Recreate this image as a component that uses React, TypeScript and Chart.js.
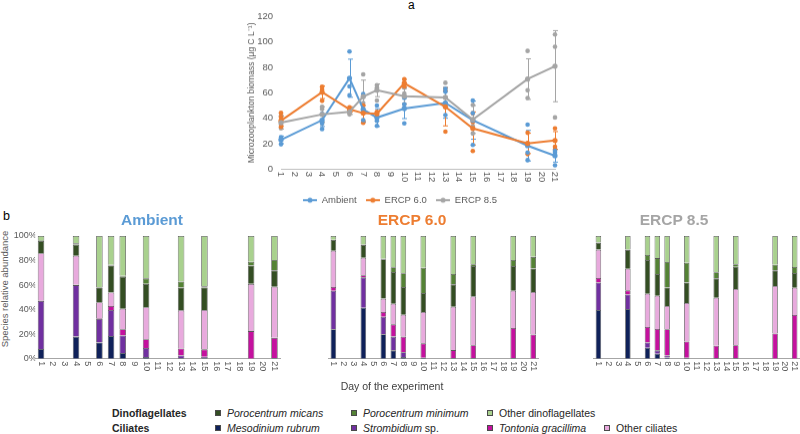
import React, { useEffect, useRef } from 'react';
import { Chart, registerables } from 'chart.js';

Chart.register(...registerables);

const FONT = '"Liberation Sans", Arial, Helvetica, sans-serif';

// ---------- categories ----------
const dayLabels = ['1', '2', '3', '4', '5', '6', '7', '8', '9', '10', '11', '12', '13', '14', '15', '16', '17', '18', '19', '20', '21'];
const sampledDays = ['1', '4', '6', '7', '8', '10', '13', '15', '19', '21'];

// ---------- panel a: biomass (µg C L-1) ----------
const ambientMean = [23, 38.5, 71.5, 47, 40.5, 47.7, 52, 38.5, 18.4, 10.5];
const ambientSd = [3, 5, 15, 10, 7, 8, 12, 15, 12, 5];
const ambientRep1 = [25, 43.5, 92.5, 59, 50, 56, 63, 54, 35, 14.4];
const ambientRep2 = [23.5, 36, 65, 47, 38, 51, 60.8, 44, 13, 13];
const ambientRep3 = [19.5, 31.5, 58, 38.5, 34, 36, 42.5, 19, 7, 3];

const ercp60Mean = [38, 60.5, 47, 44, 43.5, 67.5, 49, 32, 20.2, 22.5];
const ercp60Sd = [4, 5, 2, 6, 2, 3, 15, 13, 8, 7];
const ercp60Rep1 = [44.3, 64.8, 48.5, 50, 45, 70.8, 61.6, 43.8, 28.6, 32];
const ercp60Rep2 = [41, 62.7, 46, 45, 44, 68, 56.4, 37, 20, 17.5];
const ercp60Rep3 = [33.3, 53.7, 45, 36.4, 41, 65, 29.4, 14.2, 11.8, 15.5];

const ercp85Mean = [36.5, 43, 45, 57, 62, 57.4, 56.4, 39, 70.8, 81];
const ercp85Sd = [5, 6, 2, 13, 5, 6, 8, 11, 16, 28];
const ercp85Rep1 = [42, 49, 47.7, 74.5, 66, 64, 67.9, 50.4, 93, 106];
const ercp85Rep2 = [35, 47.2, 43, 52, 64, 59.5, 52, 33.8, 62, 96.3];
const ercp85Rep3 = [32, 36, 44, 45, 54, 51, 49, 28, 56, 40.6];

const treatmentNames = ['Ambient', 'ERCP 6.0', 'ERCP 8.5'];
const treatmentColors = ['#5B9BD5', '#ED7D31', '#A5A5A5'];

// ---------- panel b: species relative abundance (%) ----------
const speciesNames = ['Mesodinium rubrum', 'Strombidium sp.', 'Tontonia gracillima', 'Other ciliates', 'Porocentrum micans', 'Porocentrum minimum', 'Other dinoflagellates'];
const speciesColors = ['#0F215A', '#7030A0', '#C4119E', '#E8AADD', '#344E23', '#548235', '#A9D18E'];

const ambMeso = [8, 18, 13.3, 18.5, 4.6, 1.4, 0.5, 0.5, 0, 0.5];
const ambStromb = [39, 42, 19, 21.2, 14.4, 7.3, 2.2, 1, 0, 0];
const ambTont = [0.5, 0.3, 0.7, 3.3, 5, 7.1, 5.7, 6.1, 22.5, 16.5];
const ambOthCil = [38.5, 23.7, 13, 11, 16.8, 26.2, 31, 32.1, 38.5, 41.7];
const ambMicans = [10, 9, 12, 22, 26, 19, 18.6, 18.3, 15, 13.3];
const ambMinimum = [0.5, 1, 0.5, 0.5, 0.9, 4.5, 5, 1, 3, 8.4];
const ambOthDino = [3.5, 6, 41.5, 23.5, 32.3, 34.5, 37, 41, 21, 19.6];

const e60Meso = [24, 41.6, 20, 6.8, 1.4, 0.8, 0.5, 0.5, 0.5, 0];
const e60Stromb = [31.4, 24.7, 14.2, 11.2, 3.8, 0, 0, 0, 0, 0];
const e60Tont = [3, 1.7, 3.8, 10, 12.8, 11.7, 6.5, 10.5, 24.5, 19.8];
const e60OthCil = [29.6, 14.3, 11, 16.8, 17.9, 25.5, 35.4, 39.8, 30.4, 34.5];
const e60Micans = [8.7, 10.4, 32, 25.9, 22.5, 15.5, 18.2, 24.7, 20.1, 19.3];
const e60Minimum = [0.3, 0.3, 0.5, 3.8, 11.2, 20.7, 8.4, 1.5, 4.9, 9.4];
const e60OthDino = [3, 7, 18.5, 25.5, 30.4, 25.8, 31, 23, 19.6, 17];

const e85Meso = [39.7, 40.5, 9, 4, 1, 0.5, 0.5, 0.5, 0, 0];
const e85Stromb = [22.5, 11.9, 4.3, 2.8, 1.7, 0.3, 0, 0, 0, 0];
const e85Tont = [3.6, 3.3, 12.5, 17.4, 21.3, 13.2, 10.1, 10.5, 20.6, 35.6];
const e85OthCil = [23.1, 17.7, 27.2, 27.2, 19, 31.4, 39.1, 45.8, 38.6, 22.3];
const e85Micans = [5.7, 15.2, 27.4, 17.6, 15, 16.8, 15.8, 18.2, 12.8, 11.9];
const e85Minimum = [0.4, 0.4, 4.1, 13, 20.8, 16.1, 4.9, 2, 4.6, 4.9];
const e85OthDino = [5, 11, 15.5, 18, 21.2, 21.7, 29.6, 23, 23.4, 25.3];

const yPercentTicks = [0, 20, 40, 60, 80, 100];

// ---------- helpers ----------
const spread = (vals: number[]) =>
  dayLabels.map((d) => {
    const i = sampledDays.indexOf(d);
    return i >= 0 ? vals[i] : null;
  });

const cwTicks = {
  id: 'cwTicks',
  afterDraw(chart: any, _args: any, opts: any) {
    const xs = chart.scales.x;
    if (!xs) return;
    const ctx = chart.ctx;
    ctx.save();
    ctx.font = `${opts.size}px ${FONT}`;
    ctx.fillStyle = opts.color;
    ctx.textAlign = 'left';
    ctx.textBaseline = 'middle';
    xs.ticks.forEach((t: any, i: number) => {
      const x = xs.getPixelForTick(i);
      ctx.save();
      ctx.translate(x, xs.top + opts.pad);
      ctx.rotate(Math.PI / 2);
      ctx.fillText(String(xs.getLabelForValue(t.value)), 0, 0);
      ctx.restore();
    });
    ctx.restore();
  },
};

const errorBars = {
  id: 'errorBars',
  beforeDatasetsDraw(chart: any) {
    const { ctx } = chart;
    const xs = chart.scales.x;
    const ys = chart.scales.y;
    chart.data.datasets.forEach((ds: any) => {
      if (!ds.sd) return;
      ctx.save();
      ctx.strokeStyle = ds.errColor;
      ctx.lineWidth = 1;
      ds.data.forEach((v: number | null, i: number) => {
        if (v == null) return;
        const sd = ds.sd[i];
        const px = Math.round(xs.getPixelForValue(i)) + 0.5;
        const top = ys.getPixelForValue(v + sd);
        const bot = ys.getPixelForValue(v - sd);
        ctx.beginPath();
        ctx.moveTo(px, top);
        ctx.lineTo(px, bot);
        ctx.moveTo(px - 2.5, top);
        ctx.lineTo(px + 2.5, top);
        ctx.moveTo(px - 2.5, bot);
        ctx.lineTo(px + 2.5, bot);
        ctx.stroke();
      });
      ctx.restore();
    });
  },
};

function makeMarker(color: string) {
  const c = document.createElement('canvas');
  c.width = 14;
  c.height = 8;
  const g = c.getContext('2d')!;
  g.strokeStyle = color;
  g.lineWidth = 2;
  g.beginPath();
  g.moveTo(0, 4);
  g.lineTo(14, 4);
  g.stroke();
  g.fillStyle = color;
  g.beginPath();
  g.arc(7, 4, 2.5, 0, Math.PI * 2);
  g.fill();
  return c;
}

// ---------- panel a chart ----------
function BiomassChart() {
  const ref = useRef<HTMLCanvasElement>(null);
  useEffect(() => {
    const means = [ambientMean, ercp60Mean, ercp85Mean];
    const sds = [ambientSd, ercp60Sd, ercp85Sd];
    const reps = [
      [ambientRep1, ambientRep2, ambientRep3],
      [ercp60Rep1, ercp60Rep2, ercp60Rep3],
      [ercp85Rep1, ercp85Rep2, ercp85Rep3],
    ];
    const datasets: any[] = [];
    means.forEach((m, k) => {
      datasets.push({
        label: treatmentNames[k],
        data: spread(m),
        sd: spread(sds[k]),
        errColor: treatmentColors[k],
        borderColor: treatmentColors[k],
        backgroundColor: treatmentColors[k],
        borderWidth: 2,
        pointRadius: 2.6,
        pointBorderWidth: 0,
        spanGaps: true,
        order: 2 - k,
      });
    });
    reps.forEach((rs, k) => {
      rs.forEach((r) => {
        datasets.push({
          label: treatmentNames[k] + ' replicate',
          data: spread(r),
          showLine: false,
          borderColor: treatmentColors[k],
          backgroundColor: treatmentColors[k],
          pointRadius: 2.3,
          pointBorderWidth: 0,
          order: 10,
        });
      });
    });
    const markers = treatmentColors.map(makeMarker);
    const chart = new Chart(ref.current!, {
      type: 'line',
      data: { labels: dayLabels, datasets },
      plugins: [cwTicks, errorBars],
      options: {
        animation: false,
        responsive: false,
        maintainAspectRatio: false,
        layout: { padding: { top: 16.5, right: 10, left: 0, bottom: 0 } },
        plugins: {
          tooltip: { enabled: false },
          legend: {
            position: 'bottom',
            labels: {
              usePointStyle: true,
              pointStyleWidth: 14,
              boxHeight: 10,
              padding: 9.25,
              color: '#595959',
              font: { size: 9.5, family: FONT },
              generateLabels: () =>
                treatmentNames.map((n, i) => ({
                  text: n,
                  pointStyle: markers[i],
                  fillStyle: treatmentColors[i],
                  strokeStyle: treatmentColors[i],
                  lineWidth: 0,
                  hidden: false,
                  datasetIndex: i,
                  fontColor: '#595959',
                })),
            },
          },
          cwTicks: { size: 9.5, color: '#595959', pad: 2.5 },
        } as any,
        scales: {
          x: {
            type: 'category',
            grid: { display: false, drawTicks: false },
            border: { display: true, color: '#BFBFBF', width: 1 },
            ticks: { display: false },
            afterFit: (s: any) => {
              s.height = 17;
            },
          },
          y: {
            min: 0,
            max: 120,
            grid: { display: false, drawTicks: false },
            border: { display: false },
            ticks: { stepSize: 20, color: '#595959', padding: 8, font: { size: 9.5, family: FONT } },
            title: {
              display: true,
              text: 'Microzooplankton biomass (µg C L⁻¹)',
              color: '#595959',
              font: { size: 8.5, family: FONT },
              padding: { top: 2, bottom: 0 },
            },
            afterFit: (s: any) => {
              s.width = 36;
            },
          },
        },
      } as any,
    });
    return () => chart.destroy();
  }, []);
  return (
    <canvas
      ref={ref}
      width={320}
      height={214.5}
      style={{ position: 'absolute', left: 245, top: 0, width: 320, height: 214.5 }}
    />
  );
}

// ---------- panel b charts ----------
type StackProps = {
  series: number[][];
  left: number;
  width: number;
  padLeft: number;
  padRight: number;
  showY: boolean;
};

function StackChart({ series, left, width, padLeft, padRight, showY }: StackProps) {
  const ref = useRef<HTMLCanvasElement>(null);
  useEffect(() => {
    const datasets = series.map((s, k) => ({
      label: speciesNames[k],
      data: spread(s),
      backgroundColor: speciesColors[k],
      borderColor: '#5A5A5A',
      borderWidth: 0.8,
      barPercentage: 0.56,
      categoryPercentage: 1,
      stack: 'all',
    }));
    const chart = new Chart(ref.current!, {
      type: 'bar',
      data: { labels: dayLabels, datasets },
      plugins: [cwTicks],
      options: {
        animation: false,
        responsive: false,
        maintainAspectRatio: false,
        layout: { padding: { top: 6, right: padRight, left: padLeft, bottom: 0 } },
        plugins: {
          legend: { display: false },
          tooltip: { enabled: false },
          cwTicks: { size: 9, color: '#595959', pad: 2.5 },
        } as any,
        scales: {
          x: {
            stacked: true,
            grid: { display: false, drawTicks: false },
            border: { display: true, color: '#A6A6A6', width: 1 },
            ticks: { display: false },
            afterFit: (s: any) => {
              s.height = 21.3;
            },
          },
          y: {
            stacked: true,
            display: showY,
            min: 0,
            max: 100,
            grid: { display: false, drawTicks: false },
            border: { display: false },
            afterBuildTicks: (s: any) => {
              s.ticks = yPercentTicks.map((v) => ({ value: v }));
            },
            ticks: {
              color: '#595959',
              padding: -1.5,
              font: { size: 9, family: FONT },
              callback: (v: any) => v + '%',
            },
            afterFit: (s: any) => {
              s.width = 35.2;
            },
          },
        },
      } as any,
    });
    return () => chart.destroy();
  }, []);
  return (
    <canvas
      ref={ref}
      width={width}
      height={150}
      style={{ position: 'absolute', left, top: 230, width, height: 150 }}
    />
  );
}

const txt = (extra: React.CSSProperties): React.CSSProperties => ({
  position: 'absolute',
  fontFamily: FONT,
  whiteSpace: 'nowrap',
  margin: 0,
  ...extra,
});

function LegendItem({ x, y, color, children }: { x: number; y: number; color: string; children: React.ReactNode }) {
  return (
    <>
      <div
        style={{
          position: 'absolute',
          left: x,
          top: y - 3,
          width: 6,
          height: 6,
          boxSizing: 'border-box',
          border: '1px solid #4a4a4a',
          background: color,
        }}
      />
      <div style={txt({ left: x + 12, top: y - 7, fontSize: 10.5, lineHeight: '14px', color: '#262626' })}>{children}</div>
    </>
  );
}

export default function App() {
  return (
    <div style={{ position: 'fixed', left: 0, top: 0, width: 800, height: 434, background: '#fff', overflow: 'hidden' }}>
      <div style={txt({ left: 408, top: -2, fontSize: 12, color: '#000' })}>a</div>
      <BiomassChart />

      <div style={txt({ left: 3, top: 209, fontSize: 12.5, color: '#000' })}>b</div>
      <div style={txt({ left: 52, width: 200, top: 210, textAlign: 'center', fontSize: 15.5, lineHeight: '20px', fontWeight: 'bold', color: '#5B9BD5' })}>Ambient</div>
      <div style={txt({ left: 312, width: 200, top: 210, textAlign: 'center', fontSize: 15.5, lineHeight: '20px', fontWeight: 'bold', color: '#ED7D31' })}>ERCP 6.0</div>
      <div style={txt({ left: 574, width: 200, top: 210, textAlign: 'center', fontSize: 15.5, lineHeight: '20px', fontWeight: 'bold', color: '#A5A5A5' })}>ERCP 8.5</div>

      <div
        style={txt({
          left: 4.5 - 75,
          top: 289 - 6,
          width: 150,
          height: 12,
          lineHeight: '12px',
          textAlign: 'center',
          fontSize: 9.5,
          color: '#595959',
          transform: 'rotate(-90deg)',
        })}
      >
        Species relative abundance
      </div>

      <StackChart series={[ambMeso, ambStromb, ambTont, ambOthCil, ambMicans, ambMinimum, ambOthDino]} left={0} width={285} padLeft={0} padRight={4.7} showY={true} />
      <StackChart series={[e60Meso, e60Stromb, e60Tont, e60OthCil, e60Micans, e60Minimum, e60OthDino]} left={285} width={260} padLeft={8.2} padRight={6.8} showY={false} />
      <StackChart series={[e85Meso, e85Stromb, e85Tont, e85OthCil, e85Micans, e85Minimum, e85OthDino]} left={550} width={250} padLeft={8.3} padRight={0.4} showY={false} />

      <div style={txt({ left: 292, width: 200, top: 379, textAlign: 'center', fontSize: 10.5, lineHeight: '14px', color: '#404040' })}>Day of the experiment</div>

      <div style={txt({ left: 112, top: 406, fontSize: 10.5, lineHeight: '14px', fontWeight: 'bold', color: '#262626' })}>Dinoflagellates</div>
      <div style={txt({ left: 112, top: 421, fontSize: 10.5, lineHeight: '14px', fontWeight: 'bold', color: '#262626' })}>Ciliates</div>

      <LegendItem x={215} y={413} color={speciesColors[4]}><i>Porocentrum micans</i></LegendItem>
      <LegendItem x={351} y={413} color={speciesColors[5]}><i>Porocentrum minimum</i></LegendItem>
      <LegendItem x={487} y={413} color={speciesColors[6]}>Other dinoflagellates</LegendItem>

      <LegendItem x={215} y={428} color={speciesColors[0]}><i>Mesodinium rubrum</i></LegendItem>
      <LegendItem x={351} y={428} color={speciesColors[1]}><i>Strombidium</i> sp.</LegendItem>
      <LegendItem x={487} y={428} color={speciesColors[2]}><i>Tontonia gracillima</i></LegendItem>
      <LegendItem x={604} y={428} color={speciesColors[3]}>Other ciliates</LegendItem>
    </div>
  );
}
